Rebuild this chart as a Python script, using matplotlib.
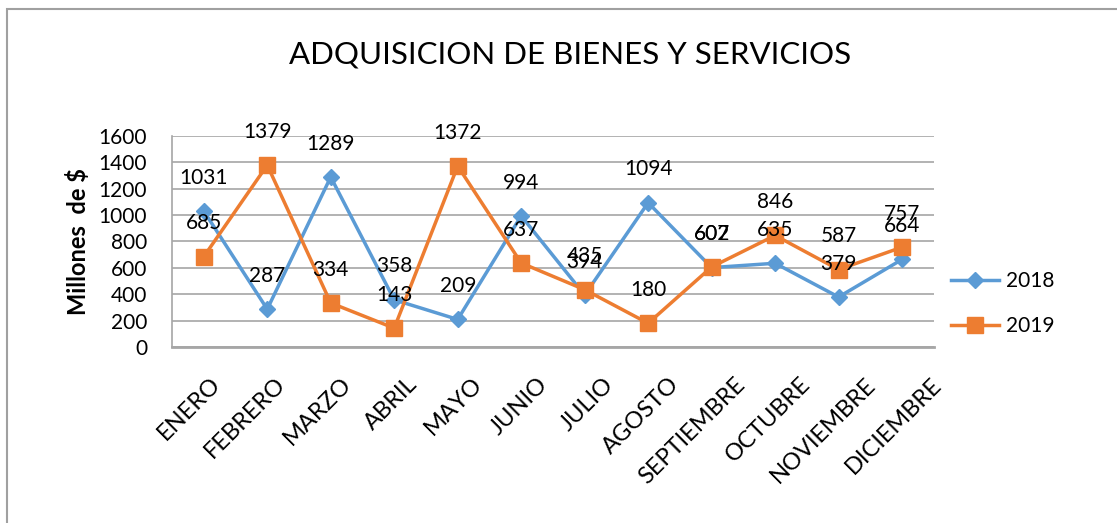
import matplotlib.pyplot as plt
from matplotlib.patches import Rectangle
import matplotlib.transforms as mtransforms

plt.rcParams['font.family'] = ['Lato', 'DejaVu Sans']

# Data
meses = ['ENERO', 'FEBRERO', 'MARZO', 'ABRIL', 'MAYO', 'JUNIO', 'JULIO',
         'AGOSTO', 'SEPTIEMBRE', 'OCTUBRE', 'NOVIEMBRE', 'DICIEMBRE']
valores_2018 = [1031, 287, 1289, 358, 209, 994, 394, 1094, 602, 635, 379, 664]
valores_2019 = [685, 1379, 334, 143, 1372, 637, 435, 180, 607, 846, 587, 757]
y_ticks = [0, 200, 400, 600, 800, 1000, 1200, 1400, 1600]

azul = '#5B9BD5'
naranja = '#ED7D31'
gris = '#A6A6A6'

fig = plt.figure(figsize=(11.17, 5.23), dpi=100)
ax = fig.add_axes([0.154, 0.3365, 0.682, 0.4035])

x = list(range(len(meses)))
ax.plot(x, valores_2018, color=azul, linewidth=2.5, marker='D', markersize=8,
        label='2018', zorder=3)
ax.plot(x, valores_2019, color=naranja, linewidth=2.5, marker='s', markersize=11,
        label='2019', zorder=3)

# Data labels above each point
for xi, v in zip(x, valores_2018):
    ax.annotate(str(v), (xi, v), xytext=(0, 24), textcoords='offset points',
                ha='center', va='center', fontsize=15, color='black')
for xi, v in zip(x, valores_2019):
    ax.annotate(str(v), (xi, v), xytext=(0, 24), textcoords='offset points',
                ha='center', va='center', fontsize=15, color='black')

ax.set_xlim(-0.5, len(meses) - 0.5)
ax.set_ylim(0, 1600)
ax.set_yticks(y_ticks)
ax.yaxis.grid(True, color=gris, linewidth=1.2)
ax.set_axisbelow(True)
ax.tick_params(axis='y', length=0, pad=18, labelsize=15)
ax.tick_params(axis='x', length=0, pad=0)
ax.set_xticks(x)
ax.set_xticklabels(meses, rotation=45, ha='right', va='center',
                   rotation_mode='anchor', fontsize=17)
# labels drift slightly right across the axis, like in the original
for i, lbl in enumerate(ax.get_xticklabels()):
    dx = (13 + 2.1 * i) / 100
    offset = mtransforms.ScaledTranslation(dx, -34 / 100, fig.dpi_scale_trans)
    lbl.set_transform(lbl.get_transform() + offset)

for s in ['top', 'right']:
    ax.spines[s].set_visible(False)
ax.spines['left'].set_color(gris)
ax.spines['left'].set_linewidth(1.2)
ax.spines['bottom'].set_color(gris)
ax.spines['bottom'].set_linewidth(2)

ax.set_ylabel('Millones  de $', fontsize=17, fontweight='bold', labelpad=6)

fig.text(0.51, 0.895, 'ADQUISICION DE BIENES Y SERVICIOS', ha='center', va='center',
         fontsize=22.5)

fig.legend(loc='center left', bbox_to_anchor=(0.835, 0.42), frameon=False,
           fontsize=15, handlelength=2.3, labelspacing=1.2, handletextpad=0.3)

# chart frame
fig.patches.append(Rectangle((7 / 1117, -0.1), 1.2, 1 - 9 / 523 + 0.1,
                             transform=fig.transFigure, fill=False,
                             edgecolor='#A0A0A0', linewidth=1.5))

plt.savefig('out.png')
